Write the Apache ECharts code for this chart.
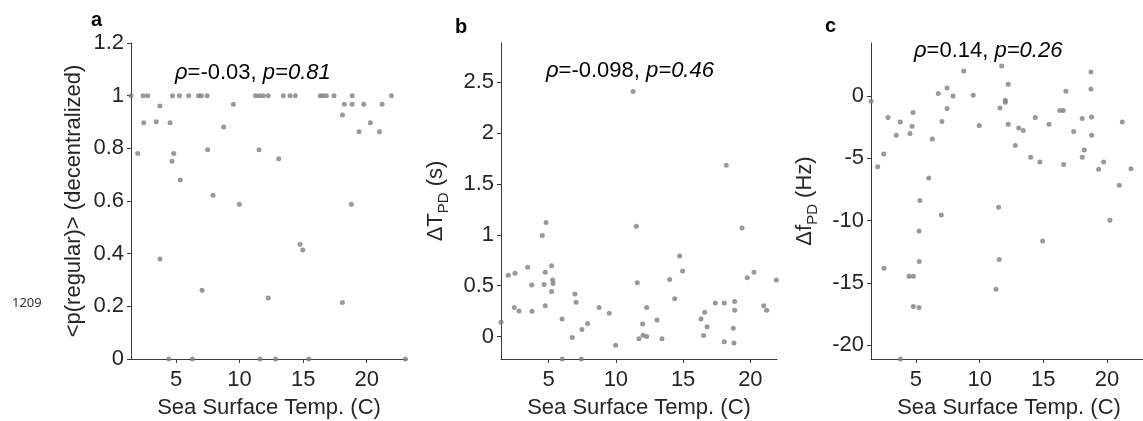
<!DOCTYPE html>
<html>
<head>
<meta charset="utf-8">
<script src="https://cdn.jsdelivr.net/npm/echarts@6/dist/echarts.min.js"></script>
<style>
html,body{margin:0;padding:0;background:#fff;}
#chart{width:1143px;height:421px;}
</style>
</head>
<body>
<div id="chart"></div>
<script>
// ---- Panel a: <p(regular)> (decentralized) vs SST ----
const aX = [1.46, 2.42, 2.78, 4.72, 5.27, 6.0, 6.77, 7.0, 7.45, 11.25, 11.56, 11.87, 12.25, 13.44, 13.97, 14.39, 16.35, 16.57, 16.83, 17.43, 18.86, 21.95,
  3.74, 2.46, 3.45, 4.53, 9.51, 8.75, 1.99, 4.82, 4.69, 7.49, 11.53, 5.34, 7.91, 9.98, 3.74, 7.05, 12.26, 4.43, 6.29, 11.61,
  18.24, 18.85, 19.77, 21.21, 18.09, 20.29, 19.40, 21.0, 13.08, 18.79, 14.76, 14.97, 18.09, 12.84, 15.44, 23.04];
const aY = [1, 1, 1, 1, 1, 1, 1, 1, 1, 1, 1, 1, 1, 1, 1, 1, 1, 1, 1, 1, 1, 1,
  0.961, 0.897, 0.901, 0.897, 0.967, 0.881, 0.780, 0.780, 0.751, 0.795, 0.795, 0.680, 0.622, 0.588, 0.380, 0.261, 0.232, 0, 0, 0,
  0.967, 0.967, 0.967, 0.967, 0.927, 0.897, 0.863, 0.863, 0.760, 0.588, 0.436, 0.414, 0.215, 0, 0, 0];

// ---- Panel b: ΔT_PD (s) vs SST ----
const bX = [11.28, 4.81, 4.53, 11.52, 5.22, 3.44, 2.0, 2.50, 4.75, 5.30, 5.33, 3.74, 4.66, 11.59, 5.22, 6.96, 7.04, 2.45, 2.80, 3.77, 4.75, 8.75, 9.51, 1.46, 6.0, 7.90, 7.48, 6.76, 9.98, 11.72, 6.0, 7.43,
  18.21, 19.38, 14.74, 14.96, 14.0, 19.77, 20.27, 21.93, 14.37, 12.29, 17.39, 18.06, 18.83, 18.83, 20.99, 21.21, 16.6, 16.33, 11.99, 13.06, 16.78, 18.73, 12.02, 12.29, 13.43, 16.52, 18.06, 18.78];
const bY = [2.407, 1.120, 0.992, 1.085, 0.697, 0.682, 0.603, 0.623, 0.633, 0.557, 0.521, 0.508, 0.511, 0.528, 0.442, 0.419, 0.337, 0.285, 0.252, 0.249, 0.304, 0.285, 0.230, 0.140, 0.174, 0.128, 0.069, -0.01, -0.085, -0.02, -0.22, -0.22,
  1.684, 1.068, 0.792, 0.645, 0.56, 0.579, 0.632, 0.557, 0.373, 0.285, 0.331, 0.331, 0.344, 0.259, 0.304, 0.259, 0.240, 0.174, 0.125, 0.164, 0.098, 0.082, 0.014, 0.0, -0.02, 0.01, -0.05, -0.062];

// ---- Panel c: Δf_PD (Hz) vs SST ----
const cX = [1.47, 1.99, 2.46, 2.80, 3.45, 3.77, 4.53, 4.69, 4.76, 5.31, 6.28, 6.0, 6.75, 7.04, 7.44, 7.44, 7.91, 8.75, 9.50, 9.97, 11.6, 11.73, 12.25, 12.02, 12.02, 12.25, 12.8, 13.07, 13.43, 14.01, 14.37, 14.74, 15.45, 16.29, 16.57, 16.6, 16.78, 17.39, 18.06, 18.06, 18.22, 18.75, 18.75, 18.80, 18.80, 19.35, 19.74, 20.97, 21.21, 21.89,
  6.99, 11.49, 20.24, 5.24, 14.95, 2.49, 5.26, 11.54, 4.45, 4.79, 11.28, 4.79, 5.24, 3.77];
const cY = [-0.44, -5.68, -4.66, -1.75, -3.17, -2.10, -3.03, -2.45, -1.35, -8.4, -3.46, -6.59, 0.18, -2.07, 0.63, -1.03, -0.02, 1.99, 0.04, -2.39, -0.98, 2.39, 0.92, -0.36, -0.52, -2.28, -3.99, -2.58, -2.79, -4.93, -1.75, -5.3, -2.28, -1.19, -1.19, -5.51, 0.36, -2.87, -1.83, -4.93, -4.34, 1.91, 0.55, -1.70, -3.17, -5.89, -5.3, -7.17, -2.10, -5.84,
  -9.55, -8.94, -9.98, -10.84, -11.64, -13.83, -13.29, -13.13, -14.47, -14.47, -15.51, -16.9, -16.98, -21.1];

// ---- Tick labels ----
const xTicks = [5, 10, 15, 20];
const aYTicks = [0, 0.2, 0.4, 0.6, 0.8, 1, 1.2];
const bYTicks = [0, 0.5, 1, 1.5, 2, 2.5];
const cYTicks = [-20, -15, -10, -5, 0];

// ---- Texts ----
const xTitle = 'Sea Surface Temp. (C)';
const aYTitle = '<p(regular)> (decentralized)';
const panelLetters = ['a', 'b', 'c'];
const statsRho = ['-0.03', '-0.098', '0.14'];
const statsP = ['0.81', '0.46', '0.26'];

const zip = (xs, ys) => xs.map((x, i) => [x, ys[i]]);

const TXT = '#262626';
const AX = '#3a3a3a';
const FONT = 'Liberation Sans, Arial, sans-serif';
const TICKFS = 22;
const NAMEFS = 22;

function xAxis(gi, min, max) {
  return {
    type: 'value', gridIndex: gi, min: min, max: max,
    name: xTitle, nameLocation: 'middle', nameGap: 38,
    nameTextStyle: { color: TXT, fontSize: NAMEFS, fontFamily: FONT },
    axisLine: { show: true, onZero: false, lineStyle: { color: AX, width: 1 } },
    axisTick: { show: true, inside: false, length: 4, customValues: xTicks, lineStyle: { color: AX } },
    axisLabel: { customValues: xTicks, color: TXT, fontSize: TICKFS, fontFamily: FONT, margin: 10 },
    splitLine: { show: false }
  };
}
function yAxis(gi, min, max, ticks, name, gap, extra) {
  return Object.assign({
    type: 'value', gridIndex: gi, min: min, max: max,
    name: name, nameLocation: 'middle', nameGap: gap, nameRotate: 90,
    nameTextStyle: { color: TXT, fontSize: NAMEFS, fontFamily: FONT },
    axisLine: { show: true, onZero: false, lineStyle: { color: AX, width: 1 } },
    axisTick: { show: true, inside: false, length: 4, customValues: ticks, lineStyle: { color: AX } },
    axisLabel: { customValues: ticks, color: TXT, fontSize: TICKFS, fontFamily: FONT, margin: 7 },
    splitLine: { show: false }
  }, extra || {});
}
const subRich = {
  sub: { fontSize: 15, fontFamily: FONT, color: TXT, verticalAlign: 'bottom', lineHeight: 15 }
};

function scatter(i, data) {
  return {
    type: 'scatter', xAxisIndex: i, yAxisIndex: i, data: data,
    symbol: 'circle', symbolSize: 5, clip: false, silent: true,
    itemStyle: { color: '#808080' }
  };
}

const statRich = {
  i: { fontSize: 22, fontFamily: FONT, fontStyle: 'italic', fill: '#000', color: '#000' },
  n: { fontSize: 22, fontFamily: FONT, fill: '#000', color: '#000' }
};
function stat(k, left, top) {
  return {
    type: 'text', left: left, top: top,
    style: { text: '{i|ρ}{n|=' + statsRho[k] + ', }{i|p=' + statsP[k] + '}', rich: statRich, font: '22px ' + FONT, fill: '#000' }
  };
}
function letter(k, left, top) {
  return {
    type: 'text', left: left, top: top,
    style: { text: panelLetters[k], font: 'bold 20px ' + FONT, fill: '#000' }
  };
}

const gridBase = { width: 276, height: 316, top: 43, containLabel: false, outerBoundsMode: 'none' };

const chart = echarts.init(document.getElementById('chart'), null, { renderer: 'canvas' });
chart.setOption({
  backgroundColor: '#fff',
  animation: false,
  grid: [
    Object.assign({ left: 131 }, gridBase),
    Object.assign({ left: 501 }, gridBase),
    Object.assign({ left: 871 }, gridBase)
  ],
  xAxis: [
    xAxis(0, 1.46, 23.17),
    xAxis(1, 1.46, 21.98),
    xAxis(2, 1.465, 23.15)
  ],
  yAxis: [
    yAxis(0, 0, 1.2, aYTicks, aYTitle, 46),
    yAxis(1, -0.22, 2.884, bYTicks, 'ΔT{sub|PD} (s)', 50, { nameTextStyle: { color: TXT, fontSize: NAMEFS, fontFamily: FONT, lineHeight: 30, rich: subRich } }),
    yAxis(2, -21.1, 4.23, cYTicks, 'Δf{sub|PD} (Hz)', 51, { nameTextStyle: { color: TXT, fontSize: NAMEFS, fontFamily: FONT, lineHeight: 30, rich: subRich } })
  ],
  series: [
    scatter(0, zip(aX, aY)),
    scatter(1, zip(bX, bY)),
    scatter(2, zip(cX, cY))
  ],
  graphic: [
    stat(0, 175, 62),
    stat(1, 546, 60),
    stat(2, 914, 40),
    letter(0, 91, 10),
    letter(1, 455, 17),
    letter(2, 825, 16),
    { type: 'text', left: 12, top: 297, style: { text: '1209', font: '13px Noto Sans', fill: '#333' } }
  ]
});
</script>
</body>
</html>
